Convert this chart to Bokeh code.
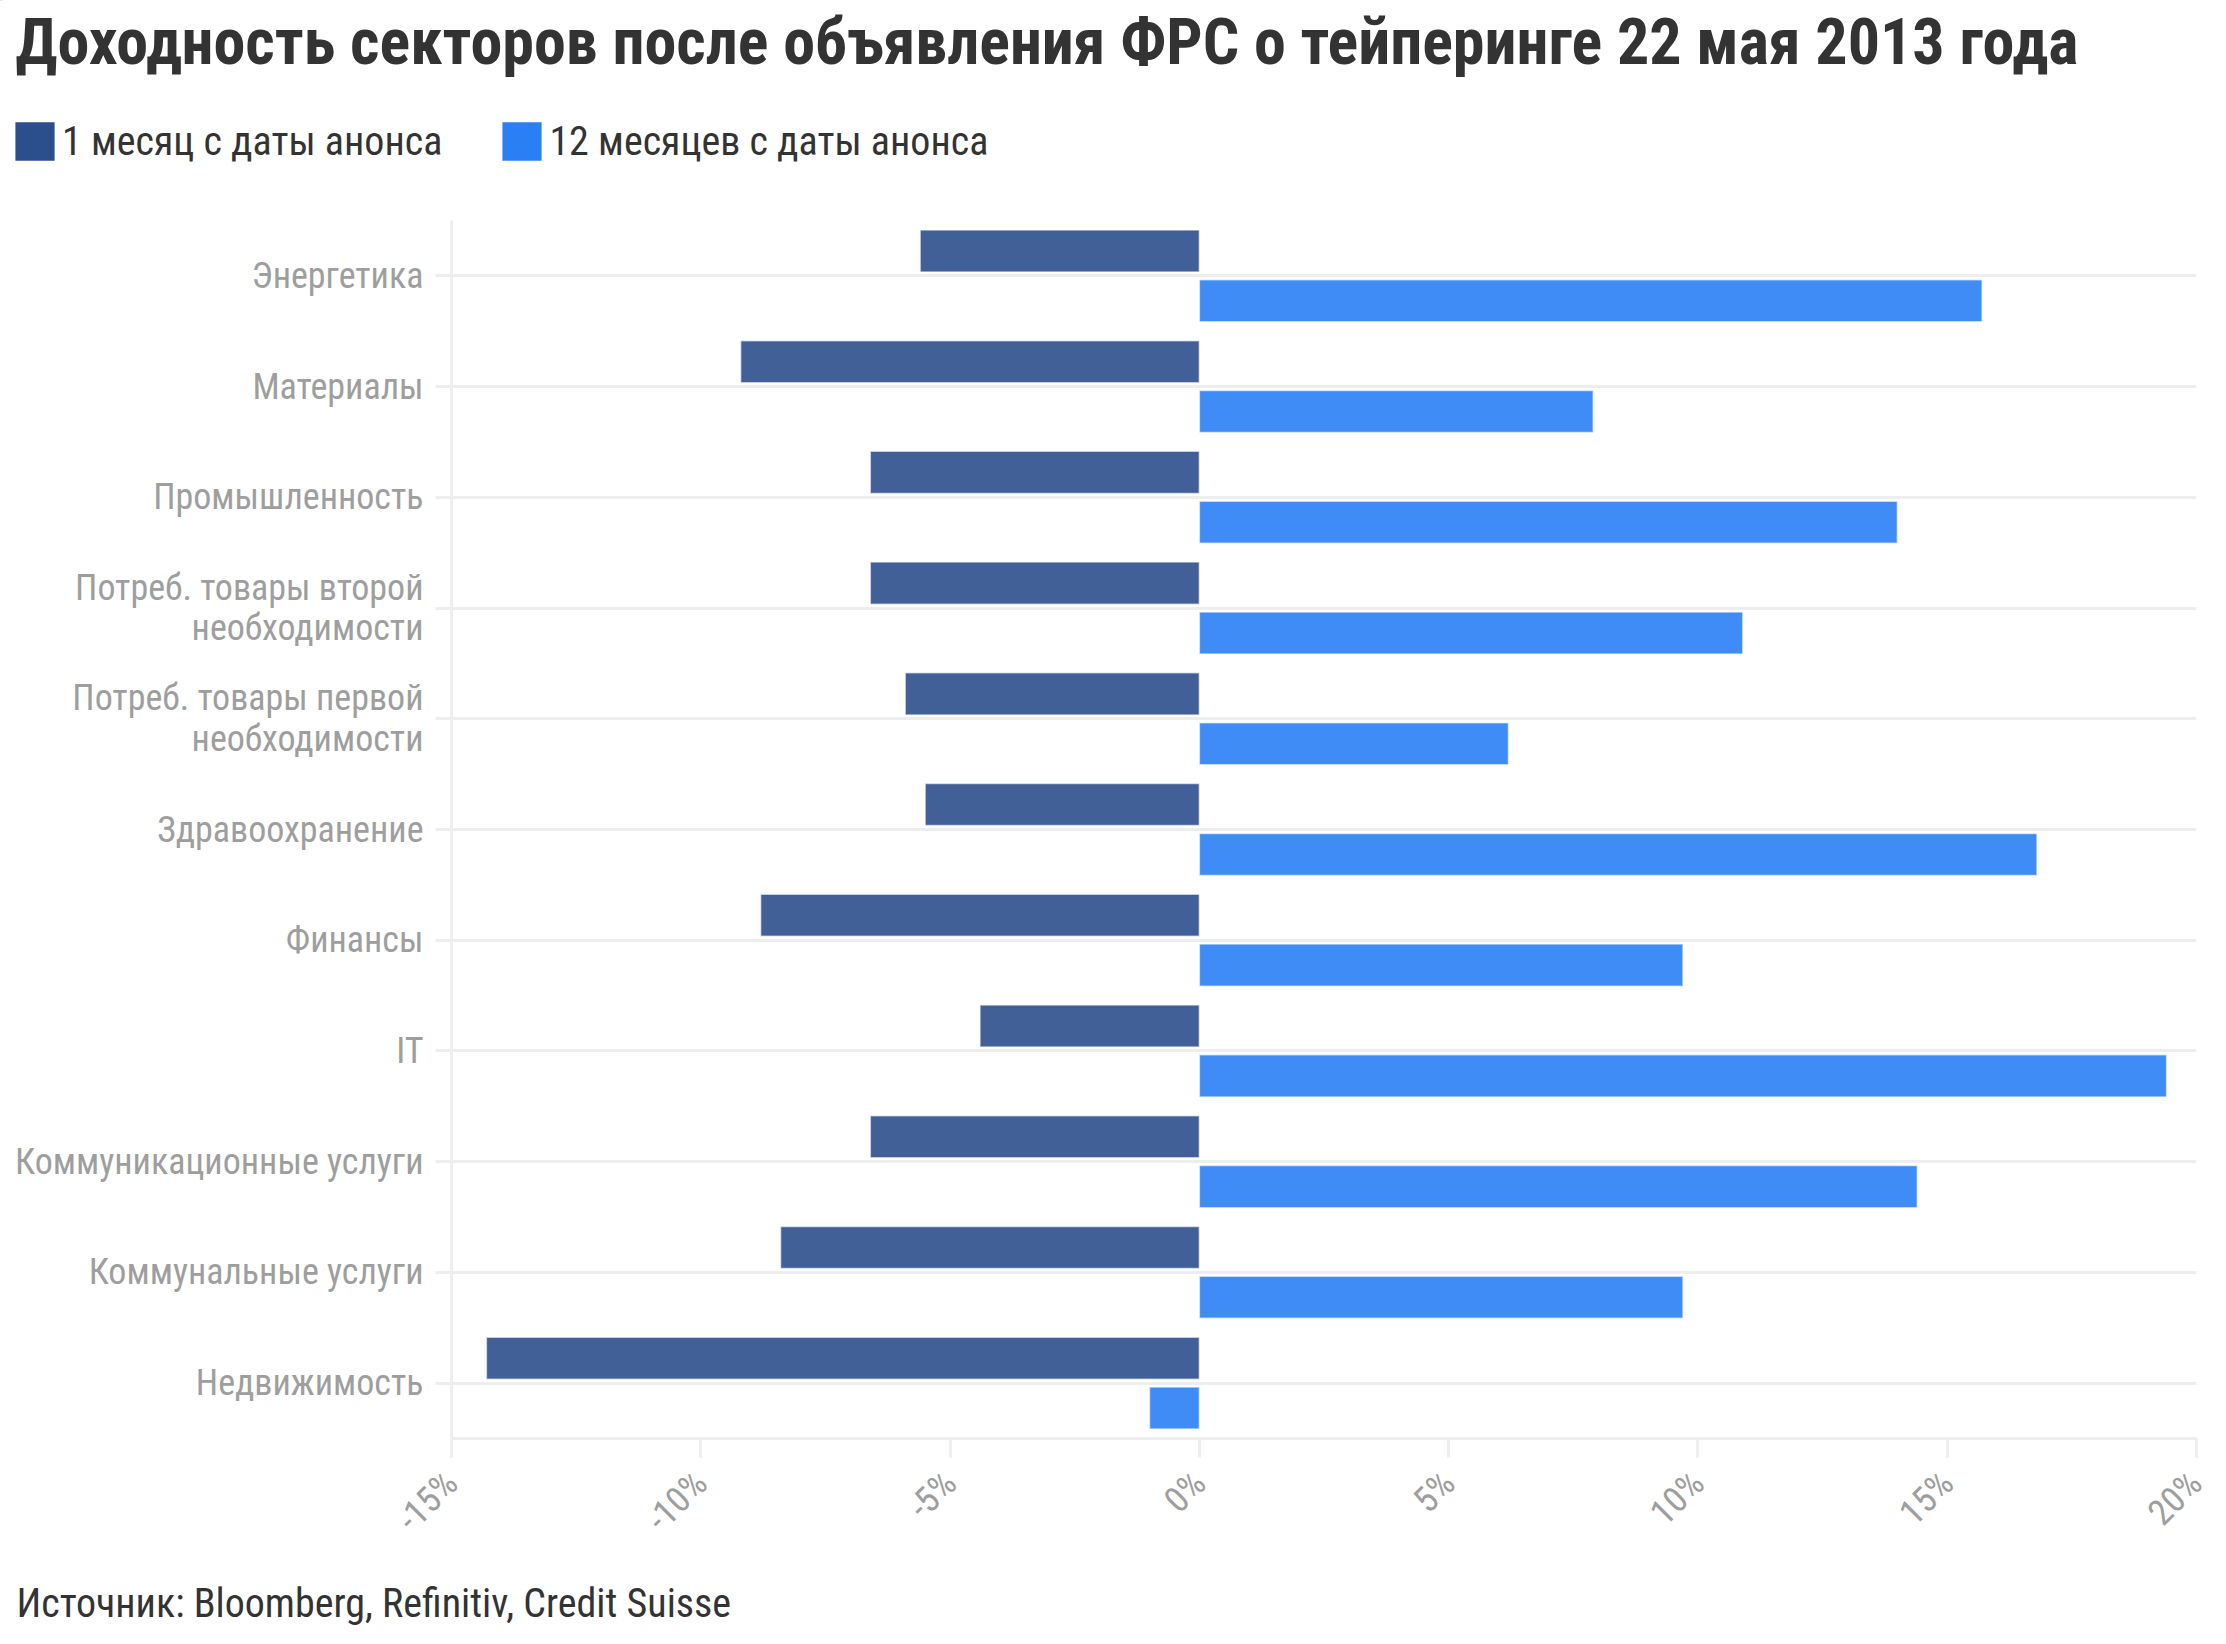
import math
from bokeh.plotting import figure
from bokeh.layouts import column
from bokeh.models import (FactorRange, Range1d, FixedTicker, PrintfTickFormatter,
                          Legend, LegendItem, ColumnDataSource)
from bokeh.transform import dodge
from bokeh.core.properties import value
from bokeh.embed import file_html
from bokeh.resources import INLINE

title_text = "Доходность секторов после объявления ФРС о тейперинге 22 мая 2013 года"
source_text = "Источник: Bloomberg, Refinitiv, Credit Suisse"
series_names = ["1 месяц с даты анонса", "12 месяцев с даты анонса"]
categories = [
    "Энергетика",
    "Материалы",
    "Промышленность",
    "Потреб. товары второй\nнеобходимости",
    "Потреб. товары первой\nнеобходимости",
    "Здравоохранение",
    "Финансы",
    "IT",
    "Коммуникационные услуги",
    "Коммунальные услуги",
    "Недвижимость",
]
month_1 = [-5.6, -9.2, -6.6, -6.6, -5.9, -5.5, -8.8, -4.4, -6.6, -8.4, -14.3]
month_12 = [15.7, 7.9, 14.0, 10.9, 6.2, 16.8, 9.7, 19.4, 14.4, 9.7, -1.0]
x_ticks = [-15, -10, -5, 0, 5, 10, 15, 20]

FONT = "Roboto Condensed, Liberation Sans Narrow, sans-serif"
DARK = "#2B4F8C"
LIGHT = "#2B7FF5"
TXT = "#333333"
GRID = "#eeeeee"
LBL = "#9e9e9e"

W = 2210
HEAD_H = 210
MAIN_TOP = 10
FRAME_H = 1218
MAIN_BOTTOM = 135
MAIN_H = MAIN_TOP + FRAME_H + MAIN_BOTTOM
FOOT_H = 1628 - HEAD_H - MAIN_H


def blank(h):
    f = figure(width=W, height=h, output_backend="svg", toolbar_location=None,
               x_range=Range1d(0, W), y_range=Range1d(h, 0),
               x_axis_type=None, y_axis_type=None, min_border=0, frame_align=False)
    f.grid.visible = False
    f.outline_line_color = None
    return f


# ---- header: title + legend
head = blank(HEAD_H)
head.text(x=[15], y=[42], text=[title_text], text_font=value(FONT), text_font_style="bold",
          text_font_size="64px", text_color=TXT, text_baseline="alphabetic")
# legend proxies: one point each, placed outside the visible header range
r1 = head.hbar(y=[-500], left=[0], right=[1], height=1, fill_color=DARK, line_color=None)
r2 = head.hbar(y=[-500], left=[0], right=[1], height=1, fill_color=LIGHT, line_color=None)
legend = Legend(items=[LegendItem(label=series_names[0], renderers=[r1]),
                       LegendItem(label=series_names[1], renderers=[r2])],
                orientation="horizontal", location=(10, HEAD_H - 165),
                glyph_width=49, glyph_height=48, label_height=48, label_standoff=3, spacing=55,
                padding=0, margin=0, border_line_color=None, background_fill_alpha=0,
                label_text_font=FONT, label_text_font_size="40px", label_text_color=TXT,
                label_text_baseline="middle")
head.add_layout(legend)

# ---- main chart
src = ColumnDataSource(dict(cat=categories, m1=month_1, m12=month_12))
p = figure(width=W, height=MAIN_H, output_backend="svg", toolbar_location=None,
           y_range=FactorRange(factors=categories[::-1]),
           x_range=Range1d(-15, 20), frame_align=False,
           min_border_left=451, min_border_right=W - 2196,
           min_border_top=MAIN_TOP, min_border_bottom=MAIN_BOTTOM)
p.outline_line_color = None

p.hbar(y=dodge("cat", 0.225, range=p.y_range), left=0, right="m1", height=0.38,
       source=src, fill_color=DARK, fill_alpha=0.9, line_color="white", line_alpha=0.6, line_width=1.5)
p.hbar(y=dodge("cat", -0.225, range=p.y_range), left=0, right="m12", height=0.38,
       source=src, fill_color=LIGHT, fill_alpha=0.9, line_color="white", line_alpha=0.6, line_width=1.5)

p.xgrid.grid_line_color = None
p.ygrid.grid_line_color = GRID
p.ygrid.grid_line_width = 3

ya = p.yaxis[0]
ya.axis_line_color = GRID
ya.axis_line_width = 3
ya.major_tick_line_color = GRID
ya.major_tick_line_width = 3
ya.major_tick_out = 16
ya.major_tick_in = 0
ya.major_label_text_font = FONT
ya.major_label_text_font_size = "36px"
ya.major_label_text_color = LBL
ya.major_label_text_line_height = 0.97
ya.major_label_standoff = 12

xa = p.xaxis[0]
xa.ticker = FixedTicker(ticks=x_ticks)
xa.formatter = PrintfTickFormatter(format="%d%%")
xa.axis_line_color = GRID
xa.axis_line_width = 3
xa.major_tick_line_color = GRID
xa.major_tick_line_width = 3
xa.major_tick_out = 19
xa.major_tick_in = 0
xa.minor_tick_line_color = None
xa.major_label_orientation = math.pi / 4
xa.major_label_text_font = FONT
xa.major_label_text_font_size = "36px"
xa.major_label_text_color = LBL
xa.major_label_standoff = 20

# ---- footer
foot = blank(FOOT_H)
foot.text(x=[16], y=[FOOT_H - 25], text=[source_text], text_font=value(FONT),
          text_font_size="40px", text_color=TXT, text_baseline="alphabetic")

layout = column(head, p, foot, spacing=0)
open("out.html", "w").write(file_html(layout, INLINE))
